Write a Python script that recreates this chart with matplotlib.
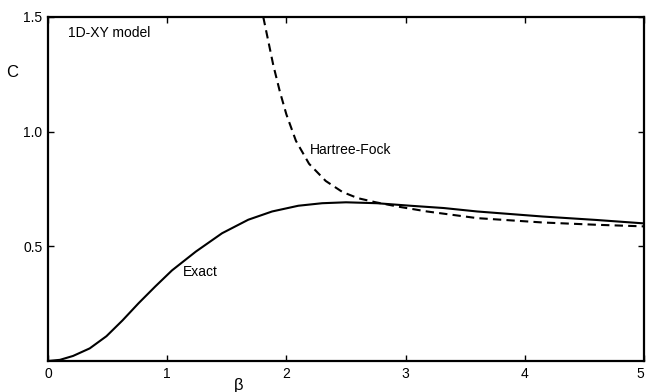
import numpy as np
from matplotlib import pyplot as plt

# values
beta_exact = [0.0, 0.1, 0.21, 0.35, 0.49, 0.625, 0.76, 0.90, 1.04, 1.24, 1.46, 1.68,
              1.88, 2.10, 2.30, 2.50, 2.76, 3.04, 3.32, 3.6, 4.15, 4.6, 5.0]
c_exact = [0.0, 0.005, 0.022, 0.055, 0.108, 0.177, 0.252, 0.325, 0.395, 0.477, 0.557, 0.616,
           0.652, 0.677, 0.688, 0.692, 0.688, 0.677, 0.667, 0.652, 0.63, 0.615, 0.60]

beta_hf = [1.806, 1.85, 1.89, 1.945, 2.0, 2.08, 2.19, 2.33, 2.47, 2.60, 2.75, 2.95,
           3.18, 3.6, 4.15, 4.6, 5.0]
c_hf = [1.50, 1.39, 1.29, 1.175, 1.075, 0.96, 0.86, 0.785, 0.737, 0.71, 0.692, 0.672,
        0.652, 0.623, 0.604, 0.594, 0.587]

x_ticks = [0, 1, 2, 3, 4, 5]
y_ticks = [0.5, 1.0, 1.5]
y_tick_labels = ['0.5', '1.0', '1.5']

plt.rcParams['font.family'] = ['Liberation Sans', 'DejaVu Sans']

fig = plt.figure(figsize=(6.46, 3.92), dpi=100)
ax = fig.add_axes([48 / 646, 31 / 392, 596 / 646, 344 / 392])

ax.plot(beta_exact, c_exact, color='black', lw=1.5)
ax.plot(beta_hf, c_hf, color='black', lw=1.5, ls=(0, (4, 2.5)))

ax.set_xlim(0, 5)
ax.set_ylim(0, 1.5)
ax.set_xticks(x_ticks)
ax.set_yticks(y_ticks)
ax.set_yticklabels(y_tick_labels)
ax.tick_params(direction='in', length=4, width=1.0, top=True, right=True,
               labelsize=10, pad=4)
ax.get_xticklabels()[-1].set_horizontalalignment('right')
for s in ax.spines.values():
    s.set_linewidth(1.6)

ax.text(-0.3, 1.26, 'C', fontsize=12, ha='center', va='center')
ax.text(1.6, -0.105, 'β', fontsize=12, ha='center', va='center')
ax.text(0.17, 1.43, '1D-XY model', fontsize=10, ha='left', va='center')
ax.text(2.2, 0.92, 'Hartree-Fock', fontsize=10, ha='left', va='center')
ax.text(1.13, 0.39, 'Exact', fontsize=10, ha='left', va='center')

plt.savefig('out.png', dpi=100)
